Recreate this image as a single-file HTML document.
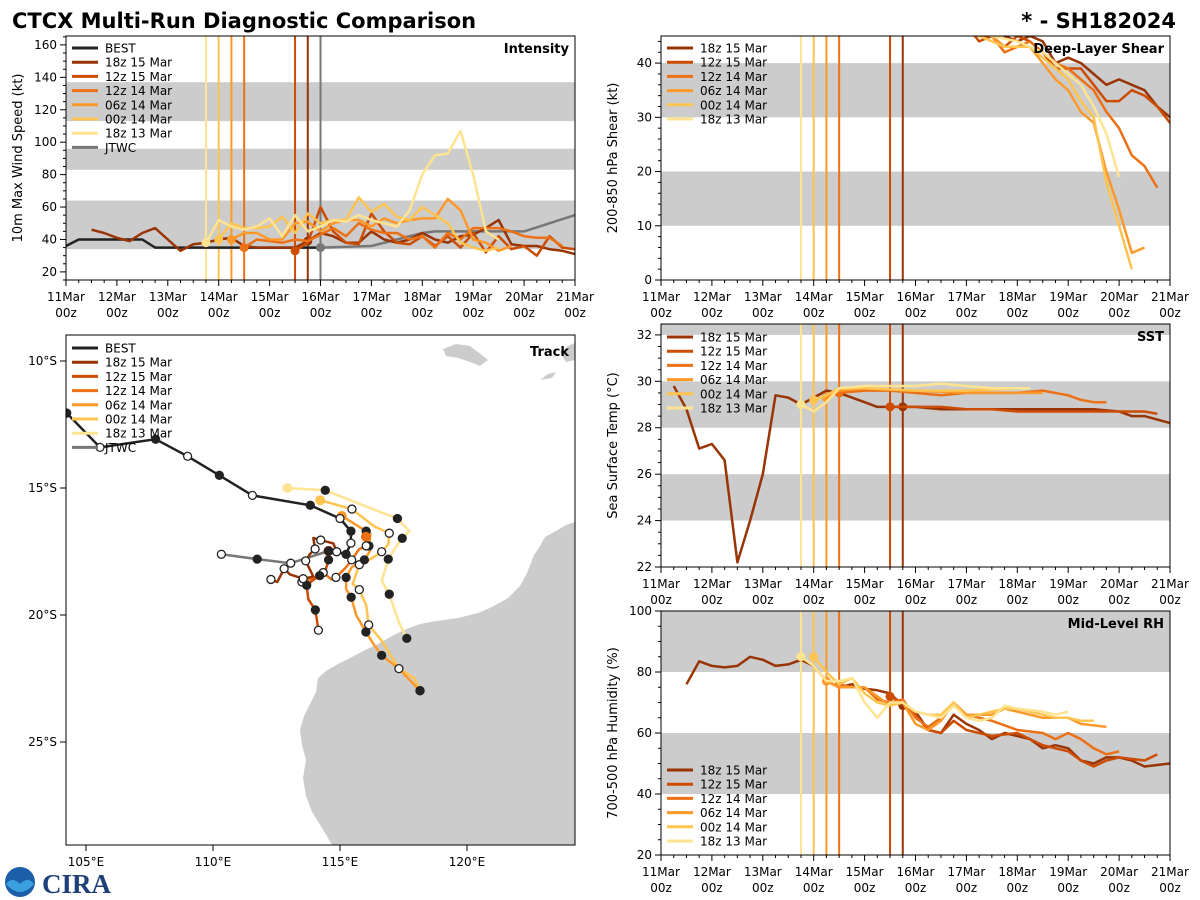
<!DOCTYPE html>
<html><head><meta charset="utf-8">
<style>
html,body{margin:0;padding:0;background:#fff;}
svg{display:block;font-family:"DejaVu Sans","Liberation Sans",sans-serif;}
</style></head>
<body>
<svg id="fig" width="1200" height="900" viewBox="0 0 1200 900" xmlns="http://www.w3.org/2000/svg">
<rect width="1200" height="900" fill="#fff"/>
<text x="12" y="28" font-size="21" font-weight="bold" fill="#000">CTCX Multi-Run Diagnostic Comparison</text>
<text x="1176" y="28" font-size="21" font-weight="bold" text-anchor="end" fill="#000">* - SH182024</text>
<g id="logo">
<circle cx="20" cy="882" r="15" fill="#1a5fa8"/>
<path d="M6,884 Q20,900 34,884 Q28,876 20,884 Q12,876 6,884 Z" fill="#3aa0e0"/>
<text x="42" y="893" font-size="27" font-weight="bold" fill="#1d3f7a" font-family="Liberation Serif,serif">CIRA</text>
</g>
</svg>
<script>
// ---------- data ----------
const dayTicks = ['11Mar','12Mar','13Mar','14Mar','15Mar','16Mar','17Mar','18Mar','19Mar','20Mar','21Mar'];
const runNames = ['18z 15 Mar','12z 15 Mar','12z 14 Mar','06z 14 Mar','00z 14 Mar','18z 13 Mar'];
const runColors = ['#993404','#cc4c02','#ec7014','#fe9929','#fec44f','#fee391'];
const runInitDays = [4.75,4.5,3.5,3.25,3.0,2.75];
const jtwcInitDay = 5.0;

const bestIntensity = [[0,36],[0.25,40],[1.5,40],[1.75,35],[5,35]];
const jtwcIntensity = [[5,35],[6,36],[6.5,40],[7,44],[7.25,45],[9,45],[10,55]];
const intensity18z15 = [[0.5,46],[0.75,44],[1,41],[1.25,39],[1.5,44],[1.75,47],[2,40],[2.25,33],[2.5,37],[2.75,38],[3,40],[3.25,41],[3.5,36],[3.75,35],[4,35],[4.5,35],[4.75,39],[5,44],[5.25,42],[5.5,38],[5.75,38],[6,45],[6.25,40],[6.5,38],[6.75,40],[7,44],[7.25,40],[7.5,38],[7.75,42],[8,43],[8.25,47],[8.5,52],[8.75,37],[9,36],[9.25,36],[9.5,34],[9.75,33],[10,31]];
const intensity12z15 = [[4.5,33],[4.75,38],[5,60],[5.25,45],[5.5,38],[5.75,37],[6,56],[6.25,45],[6.5,38],[6.75,37],[7,42],[7.25,36],[7.5,42],[7.75,35],[8,44],[8.25,32],[8.5,42],[8.75,34],[9,36],[9.25,30],[9.5,42],[9.75,35],[10,34]];
const intensity12z14 = [[3.5,35],[3.75,40],[4,39],[4.25,38],[4.5,40],[4.75,39],[5,43],[5.25,47],[5.5,42],[5.75,50],[6,46],[6.25,44],[6.5,44],[6.75,40],[7,42],[7.25,35],[7.5,44],[7.75,40],[8,47],[8.25,47],[8.5,47],[8.75,45],[9,42],[9.25,41],[9.5,41],[9.75,36]];
const intensity06z14 = [[3.25,40],[3.5,44],[3.75,44],[4,40],[4.25,40],[4.5,50],[4.75,51],[5,45],[5.25,50],[5.5,52],[5.75,52],[6,48],[6.25,53],[6.5,50],[6.75,52],[7,53],[7.25,53],[7.5,65],[7.75,58],[8,40],[8.25,38],[8.5,33],[8.75,36]];
const intensity00z14 = [[3,40],[3.25,50],[3.5,47],[3.75,47],[4,48],[4.25,54],[4.5,44],[4.75,56],[5,50],[5.25,52],[5.5,52],[5.75,66],[6,57],[6.25,62],[6.5,54],[6.75,52],[7,60],[7.25,55],[7.5,50],[7.75,38],[8,35],[8.25,33],[8.5,35]];
const intensity18z13 = [[2.75,38],[3,52],[3.25,48],[3.5,46],[3.75,48],[4,53],[4.25,42],[4.5,55],[4.75,45],[5,48],[5.25,52],[5.5,51],[5.75,55],[6,52],[6.25,50],[6.5,48],[6.75,58],[7,80],[7.25,92],[7.5,93],[7.75,107],[8,80],[8.25,45],[8.5,40]];

const shear18z15 = [[5.75,48],[6.25,47],[6.5,46],[6.75,45],[7,44],[7.25,45],[7.5,44],[7.75,40],[8,41],[8.25,40],[8.5,38],[8.75,36],[9,37],[9.25,36],[9.5,35],[9.75,32],[10,30]];
const shear12z15 = [[6,47],[6.25,44],[6.5,45],[6.75,43],[7,45],[7.25,44],[7.5,42],[7.75,39],[8,39],[8.25,39],[8.5,36],[8.75,33],[9,33],[9.25,35],[9.5,34],[9.75,32],[10,29],[10.25,32]];
const shear12z14 = [[5.5,48],[6,46],[6.25,45],[6.5,45],[6.75,42],[7,43],[7.25,44],[7.5,42],[7.75,40],[8,39],[8.25,37],[8.5,35],[8.75,31],[9,28],[9.25,23],[9.5,21],[9.75,17]];
const shear06z14 = [[5.5,48],[6,46],[6.5,45],[6.75,43],[7,43],[7.25,43],[7.5,40],[7.75,37],[8,35],[8.25,31],[8.5,29],[8.75,20],[9,13],[9.25,5],[9.5,6]];
const shear00z14 = [[5.5,48],[6,46],[6.5,44],[6.75,43],[7,43],[7.25,43],[7.5,41],[7.75,39],[8,37],[8.25,33],[8.5,30],[8.75,18],[9,10],[9.25,2]];
const shear18z13 = [[6,47],[6.5,45],[7,44],[7.5,42],[7.75,40],[8,38],[8.25,36],[8.5,32],[8.75,27],[9,19]];

const sst18z15 = [[0.25,29.8],[0.5,28.8],[0.75,27.1],[1,27.3],[1.25,26.6],[1.5,22.2],[1.75,24],[2,26],[2.25,29.4],[2.5,29.3],[2.75,29],[3,29.3],[3.25,29.6],[3.5,29.5],[3.75,29.3],[4,29.1],[4.25,28.9],[4.5,28.9],[4.75,28.9],[5,28.9],[5.5,28.8],[6,28.8],[7,28.8],[8,28.8],[8.5,28.8],[9,28.7],[9.25,28.5],[9.5,28.5],[10,28.2]];
const sst12z15 = [[4.5,28.9],[5,28.9],[5.5,28.9],[6,28.8],[6.5,28.8],[7,28.7],[7.5,28.7],[8,28.7],[9,28.7],[9.5,28.7],[9.75,28.6]];
const sst12z14 = [[3.5,29.5],[4,29.6],[4.5,29.6],[5,29.5],[5.5,29.4],[6,29.5],[6.5,29.5],[7,29.5],[7.5,29.6],[8,29.4],[8.25,29.2],[8.5,29.1],[8.75,29.1]];
const sst06z14 = [[3.25,29.3],[3.5,29.6],[4,29.7],[5,29.6],[6,29.5],[7,29.5],[7.5,29.5]];
const sst00z14 = [[3,29.2],[3.25,29.4],[3.5,29.7],[4,29.7],[5,29.6],[6,29.6],[7,29.7]];
const sst18z13 = [[2.75,29],[3,28.7],[3.25,29.1],[3.5,29.7],[4,29.8],[5,29.8],[5.5,29.9],[6,29.8],[6.5,29.7],[7.25,29.7]];

const rh18z15 = [[0.5,76],[0.75,83.5],[1,82],[1.25,81.5],[1.5,82],[1.75,85],[2,84],[2.25,82],[2.5,82.5],[2.75,84],[3,82],[3.25,77],[3.5,75],[3.75,76],[4,74.5],[4.25,74],[4.5,73],[4.75,69],[5,67],[5.25,61],[5.5,60],[5.75,66],[6,63],[6.25,61],[6.5,58],[6.75,60],[7,59],[7.25,58],[7.5,55],[7.75,56],[8,55],[8.25,51],[8.5,50],[8.75,52],[9,52],[9.25,51],[9.5,49],[9.75,49.5],[10,50]];
const rh12z15 = [[4.5,72],[4.75,70],[5,66],[5.25,61],[5.5,60],[5.75,64],[6,61],[6.5,59],[7,60],[7.5,56],[7.75,55],[8,54],[8.25,51],[8.5,49],[8.75,51],[9,52],[9.5,51],[9.75,53]];
const rh12z14 = [[3.5,76],[3.75,75],[4,75],[4.25,71],[4.5,70],[4.75,71],[5,65],[5.25,62],[5.5,65],[5.75,69],[6,66],[6.5,64],[7,61],[7.5,60],[7.75,58],[8,60],[8.25,58],[8.5,55],[8.75,53],[9,54]];
const rh06z14 = [[3.25,77],[3.5,75],[4,75],[4.25,72],[4.5,69],[4.75,70],[5,63],[5.25,61],[5.5,64],[5.75,70],[6,66],[6.5,66],[6.75,68],[7,67],[7.5,65],[8,65],[8.25,63],[8.5,62.5],[8.75,62]];
const rh00z14 = [[3,85],[3.25,80],[3.5,76],[3.75,78],[4,73],[4.25,70],[4.5,69],[4.75,70],[5,67],[5.25,66],[5.5,66],[5.75,70],[6,65],[6.25,66],[6.5,67],[6.75,68],[7,68],[7.5,66],[7.75,65],[8,65],[8.25,64],[8.5,64]];
const rh18z13 = [[2.75,85],[3,82],[3.25,77],[3.5,77],[3.75,78],[4,70],[4.25,65],[4.5,70],[4.75,70],[5,67],[5.25,66],[5.5,65],[5.75,69],[6,65],[6.25,64],[6.5,65],[6.75,69],[7,68],[7.5,67],[7.75,66],[8,67]];

const trackBest = [[104.0,12.05],[104.24,12.05],[105.55,13.4],[107.74,13.08],[109,13.75],[110.25,14.5],[111.55,15.29],[113.83,15.68],[115.0,16.2],[115.43,16.7],[115.43,17.17],[115.24,17.61],[114.87,17.51],[114.55,17.48]];
const trackJtwc = [[114.55,17.48],[113.06,17.96],[111.74,17.8],[110.33,17.61]];
const track18z15 = [[114.55,17.48],[114.87,17.51],[114.74,17.18],[114.24,17.05],[113.95,16.97],[114.02,17.4],[113.82,17.6],[113.65,17.87],[113.95,18.49],[113.55,18.57],[113.03,18.4],[112.8,18.18],[112.53,18.7],[112.28,18.6]];
const track12z15 = [[114.55,17.48],[114.55,17.83],[114.44,18.2],[114.2,18.45],[113.95,18.62],[113.69,18.83],[113.75,19.38],[114.03,19.8],[114.15,20.6]];
const track12z14 = [[116.02,16.92],[116.03,17.28],[115.75,17.41],[115.46,17.83],[115.24,18.12],[114.84,18.52],[114.66,18.6],[114.34,18.33],[113.95,18.55],[113.5,18.7]];
const track06z14 = [[115.07,16.1],[116.03,16.7],[116.2,16.8],[116.14,17.28],[116.18,17.48],[115.96,17.83],[115.46,18.12],[115.24,18.52],[115.24,18.98],[115.44,19.3],[115.64,20.01],[116.02,20.67],[116.35,21.19],[116.64,21.59],[117.32,22.11],[118.15,22.98]];
const track00z14 = [[114.22,15.48],[115.47,15.83],[116.35,16.51],[116.94,16.78],[116.9,17.22],[116.64,17.51],[116.18,17.81],[115.76,18.02],[115.5,18.78],[115.76,19.0],[116.03,19.62],[116.13,20.39],[116.63,21.0],[117.32,22.11],[117.93,22.49],[118.15,22.98]];
const track18z13 = [[112.93,15.0],[114.42,15.09],[116.42,15.88],[117.26,16.2],[117.73,16.7],[117.45,16.98],[117.14,17.41],[116.9,17.8],[116.64,18.65],[116.94,19.18],[117.32,20.29],[117.63,20.92]];

const intensityTicks = [20,40,60,80,100,120,140,160];
const shearTicks = [0,10,20,30,40];
const sstTicks = [22,24,26,28,30,32];
const rhTicks = [20,40,60,80,100];
const lonTicks = [105,110,115,120];
const latTicks = [10,15,20,25];

// ---------- helpers ----------
const NS='http://www.w3.org/2000/svg';
const svg=document.getElementById('fig');
function mk(tag,attrs,parent){const e=document.createElementNS(NS,tag);for(const k in attrs)e.setAttribute(k,attrs[k]);(parent||svg).appendChild(e);return e;}
function txt(s,attrs,parent){const e=mk('text',attrs,parent);e.textContent=s;return e;}

function timePanel(cfg){
  const g=mk('g',{});
  
  
  const {x0,y0,w,h,ymin,ymax}=cfg;
  const X=d=>x0+d/10*w, Y=v=>y0+h-(v-ymin)/(ymax-ymin)*h;
  mk('rect',{x:x0,y:y0,width:w,height:h,fill:'#fff'},g);
  const cp='cp'+cfg.name;
  const cl=mk('clipPath',{id:cp},g);mk('rect',{x:x0,y:y0,width:w,height:h},cl);
  const inner=mk('g',{'clip-path':'url(#'+cp+')'},g);
  cfg.bands.forEach(b=>{const r=mk('rect',{x:x0,y:Y(Math.min(b[1],ymax)),width:w,height:Y(b[0])-Y(Math.min(b[1],ymax)),fill:'#cccccc'},inner);
    });
  // init lines
  cfg.inits.forEach((d,i)=>{const l=mk('line',{x1:X(d),x2:X(d),y1:y0,y2:y0+h,stroke:runColors[i],'stroke-width':2},inner);
    });
  if(cfg.jtwcLine){const l=mk('line',{x1:X(jtwcInitDay),x2:X(jtwcInitDay),y1:y0,y2:y0+h,stroke:'#777','stroke-width':2},inner);
    }
  cfg.series.forEach(s=>{
    const p=mk('polyline',{points:s.data.map(q=>X(q[0]).toFixed(1)+','+Y(q[1]).toFixed(1)).join(' '),fill:'none',stroke:s.color,'stroke-width':2.5,'stroke-linejoin':'round'},inner);
    
    if(s.dot!==undefined){const pt=s.data.find(q=>Math.abs(q[0]-s.dot)<0.01)||s.data[0];
      const c=mk('circle',{cx:X(pt[0]),cy:Y(pt[1]),r:4.5,fill:s.color},inner);
      }
  });
  mk('rect',{x:x0,y:y0,width:w,height:h,fill:'none',stroke:'#000','stroke-width':1},g);
  // x ticks
  for(let k=0;k<=40;k++){const x=X(k/4);const major=k%4===0;
    mk('line',{x1:x,x2:x,y1:y0+h,y2:y0+h+(major?6:3),stroke:'#000','stroke-width':1},g);}
  dayTicks.forEach((t,i)=>{
    const a=txt(t,{x:X(i),y:y0+h+21,'font-size':12,'text-anchor':'middle'},g);
    
    txt('00z',{x:X(i),y:y0+h+37,'font-size':12,'text-anchor':'middle'},g);});
  // y ticks
  cfg.ticks.forEach(v=>{mk('line',{x1:x0-6,x2:x0,y1:Y(v),y2:Y(v),stroke:'#000'},g);
    const a=txt(String(v),{x:x0-9,y:Y(v)+4,'font-size':12,'text-anchor':'end'},g);
    });
  for(let v=ymin;v<=ymax;v+=cfg.minor){if(cfg.ticks.indexOf(+v.toFixed(2))<0)mk('line',{x1:x0-3,x2:x0,y1:Y(v),y2:Y(v),stroke:'#000'},g);}
  const yl=txt(cfg.ylabel,{x:0,y:0,'font-size':13,'text-anchor':'middle',transform:`translate(${x0-44},${y0+h/2}) rotate(-90)`},g);
  
  const tt=txt(cfg.title,{x:x0+w-6,y:y0+17,'font-size':13,'font-weight':'bold','text-anchor':'end'},g);
  
  legend(g,cfg.legend,x0+6,cfg.legendY);
}
function legend(g,items,x,y){
  const lg=mk('g',{},g);
  
  
  items.forEach((it,i)=>{const yy=y+i*14.2;
    const e=mk('g',{},lg);
    
    
    mk('line',{x1:x,x2:x+26,y1:yy,y2:yy,stroke:it[1],'stroke-width':3},e);
    txt(it[0],{x:x+33,y:yy+4.5,'font-size':12},e);});
}
const runLegend=runNames.map((n,i)=>[n,runColors[i]]);
function runs(arrs){return arrs.map((a,i)=>({data:a,color:runColors[i],dot:runInitDays[i]}));}

// ---------- panels ----------
timePanel({name:'intensity-panel',x0:66,y0:36,w:509,h:244,ymin:15,ymax:165.5,bands:[[34,64],[83,96],[113,137]],
  ticks:intensityTicks,minor:5,ylabel:'10m Max Wind Speed (kt)',title:'Intensity',inits:runInitDays,jtwcLine:true,
  series:[{data:bestIntensity,color:'#222'},{data:jtwcIntensity,color:'#777',dot:jtwcInitDay}].concat(runs([intensity18z15,intensity12z15,intensity12z14,intensity06z14,intensity00z14,intensity18z13])),
  legend:[['BEST','#222']].concat(runLegend,[['JTWC','#777']]),legendY:48});
timePanel({name:'shear-panel',x0:661,y0:36,w:509,h:244,ymin:0,ymax:45,bands:[[10,20],[30,40]],
  ticks:shearTicks,minor:2,ylabel:'200-850 hPa Shear (kt)',title:'Deep-Layer Shear',inits:runInitDays,
  series:runs([shear18z15,shear12z15,shear12z14,shear06z14,shear00z14,shear18z13]).map(s=>({data:s.data,color:s.color})),
  legend:runLegend,legendY:48});
timePanel({name:'sst-panel',x0:661,y0:324,w:509,h:243,ymin:22,ymax:32.47,bands:[[24,26],[28,30],[32,33]],
  ticks:sstTicks,minor:0.5,ylabel:'Sea Surface Temp (°C)',title:'SST',inits:runInitDays,
  series:runs([sst18z15,sst12z15,sst12z14,sst06z14,sst00z14,sst18z13]),
  legend:runLegend,legendY:337});
timePanel({name:'rh-panel',x0:661,y0:611,w:509,h:244,ymin:20,ymax:100,bands:[[40,60],[80,100]],
  ticks:rhTicks,minor:5,ylabel:'700-500 hPa Humidity (%)',title:'Mid-Level RH',inits:runInitDays,
  series:runs([rh18z15,rh12z15,rh12z14,rh06z14,rh00z14,rh18z13]),
  legend:runLegend,legendY:770});

// ---------- track map ----------
(function(){
  const g=mk('g',{});
  
  
  const x0=66,y0=335,w=509,h=510;
  const LX=lon=>86+(lon-105)*25.4, LY=lat=>488+(lat-15)*25.4;
  const cl=mk('clipPath',{id:'cptrack'},g);mk('rect',{x:x0,y:y0,width:w,height:h},cl);
  const inner=mk('g',{'clip-path':'url(#cptrack)'},g);
  mk('rect',{x:x0,y:y0,width:w,height:h,fill:'#fff'},inner);
  const land=mk('path',{d:'M575,522 L566,525 L556,531 L545,537 L540,546 L534,555 L527,573 L520,586 L508,598 L492,607 L478,613 L458,618 L436,621 L420,624 L404,630 L392,636 L378,644 L365,650 L350,658 L338,664 L326,671 L318,678 L316,692 L310,704 L304,716 L300,730 L302,745 L306,760 L303,778 L306,796 L312,812 L322,828 L332,845 L575,845 Z',fill:'#cccccc'},inner);
  
  mk('path',{d:'M443,349 L456,344 L470,346 L478,352 L488,360 L480,366 L470,362 L458,358 L446,356 Z',fill:'#cccccc'},inner);
  mk('path',{d:'M540,380 L548,374 L556,372 L552,378 Z',fill:'#cccccc'},inner);
  mk('path',{d:'M560,352 L570,345 L575,343 L575,360 L566,362 Z',fill:'#cccccc'},inner);
  mk('path',{d:'M538,698 L543,697 L544,706 L538,707 Z',fill:'#cccccc'},inner);
  const tracks=[[trackJtwc,'#777'],[track18z13,runColors[5]],[track00z14,runColors[4]],[track06z14,runColors[3]],[track12z14,runColors[2]],[track12z15,runColors[1]],[track18z15,runColors[0]],[trackBest,'#222']];
  tracks.forEach(([t,c])=>{
    const p=mk('polyline',{points:t.map(q=>LX(q[0]).toFixed(1)+','+LY(q[1]).toFixed(1)).join(' '),fill:'none',stroke:c,'stroke-width':2.5,'stroke-linejoin':'round'},inner);
    
  });
  tracks.forEach(([t,c],ti)=>{
    if(ti>0&&ti<7){const c0=mk('circle',{cx:LX(t[0][0]),cy:LY(t[0][1]),r:5,fill:c},inner);
      }
    t.forEach((q,i)=>{if(i===0&&ti>0&&ti<7)return; if(ti===7&&i<1)return;
      if(i%2===0&&ti!==7&&ti!==0&&i!==t.length-1)return;
      const filled=(i+ti)%2===0;
      const m=mk('circle',{cx:LX(q[0]),cy:LY(q[1]),r:4,fill:filled?'#222':'#fff',stroke:'#222','stroke-width':1.3},inner);
      });
  });
  mk('rect',{x:x0,y:y0,width:w,height:h,fill:'none',stroke:'#000'},g);
  lonTicks.forEach(v=>{mk('line',{x1:LX(v),x2:LX(v),y1:y0+h,y2:y0+h+6,stroke:'#000'},g);
    const a=txt(v+'°E',{x:LX(v),y:y0+h+21,'font-size':12,'text-anchor':'middle'},g);
    });
  latTicks.forEach(v=>{mk('line',{x1:x0-6,x2:x0,y1:LY(v),y2:LY(v),stroke:'#000'},g);
    const a=txt(v+'°S',{x:x0-9,y:LY(v)+4,'font-size':12,'text-anchor':'end'},g);
    });
  const tt=txt('Track',{x:x0+w-6,y:y0+21,'font-size':13,'font-weight':'bold','text-anchor':'end'},g);
  
  legend(g,[['BEST','#222']].concat(runLegend,[['JTWC','#777']]),x0+6,348);
})();
svg.appendChild(document.getElementById('logo'));
</script>
</body></html>
